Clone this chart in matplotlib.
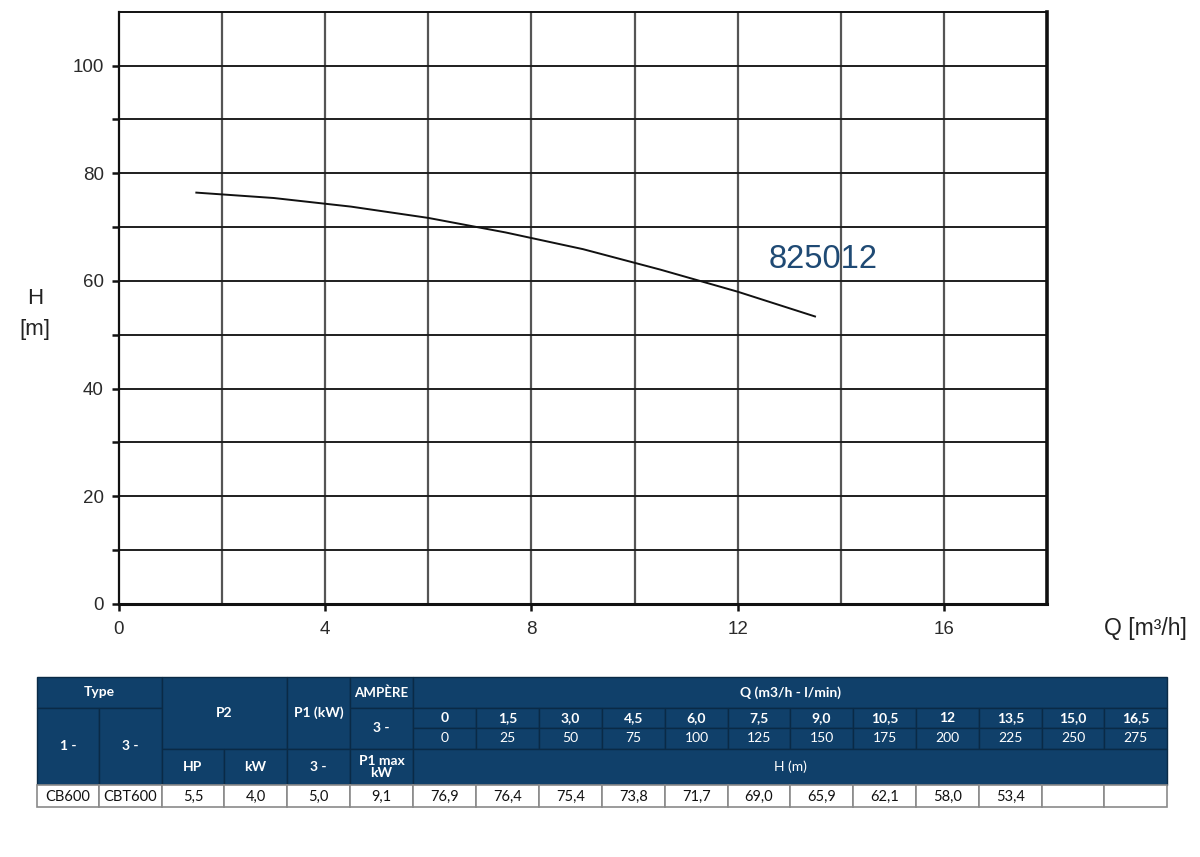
import matplotlib
matplotlib.use("Agg")
import matplotlib.pyplot as plt
from matplotlib.patches import Rectangle
import numpy as np

# ---------------- data ----------------
q_m3h = [0, 1.5, 3.0, 4.5, 6.0, 7.5, 9.0, 10.5, 12, 13.5, 15.0, 16.5]
q_m3h_labels = ["0", "1,5", "3,0", "4,5", "6,0", "7,5", "9,0", "10,5", "12", "13,5", "15,0", "16,5"]
q_lmin_labels = ["0", "25", "50", "75", "100", "125", "150", "175", "200", "225", "250", "275"]
h_m = [76.9, 76.4, 75.4, 73.8, 71.7, 69.0, 65.9, 62.1, 58.0, 53.4, None, None]
curve_start_q = 1.5
curve_label = "825012"
type_1ph = "CB600"
type_3ph = "CBT600"
p2_hp = "5,5"
p2_kw = "4,0"
p1_kw = "5,0"
p1max_kw = "9,1"

x_ticks = [0, 4, 8, 12, 16]
y_ticks = [0, 20, 40, 60, 80, 100]

# ---------------- figure ----------------
W, H = 1200, 857
fig = plt.figure(figsize=(W / 100, H / 100), dpi=100)
plt.rcParams['font.family'] = ['Liberation Sans', 'DejaVu Sans']

ax = fig.add_axes([119 / W, 1 - 604 / H, (1047 - 119) / W, (604 - 11.7) / H])
ax.set_xlim(0, 18)
ax.set_ylim(0, 110)

# grid
for gx in np.arange(2, 18, 2):
    ax.axvline(gx, color="#555555", lw=1.6, zorder=1)
for gy in np.arange(10, 110, 10):
    ax.axhline(gy, color="#1e1e1e", lw=1.4, zorder=1)

# curve
qc = [q for q, h in zip(q_m3h, h_m) if h is not None and q >= curve_start_q]
hc = [h for q, h in zip(q_m3h, h_m) if h is not None and q >= curve_start_q]
ax.plot(qc, hc, color="#111111", lw=1.4, zorder=3, solid_joinstyle="round")

ax.text(12.6, 64, curve_label, color="#1f4a74", fontsize=23.5, va="center", ha="left")

for s in ax.spines.values():
    s.set_color("#111111")
ax.spines["left"].set_linewidth(1.6)
ax.spines["top"].set_linewidth(1.4)
ax.spines["bottom"].set_linewidth(2.2)
ax.spines["right"].set_linewidth(2.6)

ax.set_xticks(x_ticks)
ax.set_xticklabels([str(t) for t in x_ticks])
ax.set_yticks(y_ticks)
ax.set_yticklabels([str(t) for t in y_ticks])
ax.set_yticks(np.arange(10, 110, 20), minor=True)
ax.tick_params(axis="both", which="both", direction="out", length=5, width=1.8,
               color="#111111", labelsize=13.5, labelcolor="#2a2a2a")
ax.tick_params(axis="y", pad=6)
ax.tick_params(axis="x", pad=7)

fig.text(35 / W, 1 - 299 / H, "H", fontsize=16, ha="center", va="center", color="#222222")
fig.text(35 / W, 1 - 330 / H, "[m]", fontsize=16, ha="center", va="center", color="#222222")
fig.text(1145 / W, 1 - 628 / H, "Q [m³/h]", fontsize=16.5, ha="center", va="center", color="#222222")

# ---------------- table ----------------
tax = fig.add_axes([0, 0, 1, 1])
tax.set_xlim(0, W)
tax.set_ylim(H, 0)
tax.axis("off")

navy = "#10406a"
line_dark = "#0a2a46"
hfont = dict(color="white", fontsize=10, fontweight="bold", ha="center", va="center",
             family=["Lato", "DejaVu Sans"])
dfont = dict(color="#111111", fontsize=10.5, ha="center", va="center",
             family=["Lato", "DejaVu Sans"])

r0, r1, r2, r3, r4, r5 = 677, 708, 727.5, 749, 785, 807
c = [37, 99, 162, 224, 287, 350, 413]
qcols = [413, 476, 539, 602, 665, 728, 790, 853, 916, 979, 1042, 1104, 1167]


def hcell(x0, x1, y0, y1, txt, ec=line_dark, weight="bold", fs=None):
    tax.add_patch(Rectangle((x0, y0), x1 - x0, y1 - y0, facecolor=navy, edgecolor=ec, lw=1))
    if txt:
        kw = dict(hfont)
        kw["fontweight"] = weight
        if fs:
            kw["fontsize"] = fs
        tax.text((x0 + x1) / 2, (y0 + y1) / 2, txt, linespacing=1.0, **kw)


def dcell(x0, x1, y0, y1, txt):
    tax.add_patch(Rectangle((x0, y0), x1 - x0, y1 - y0, facecolor="white", edgecolor="#8a8a8a", lw=1.2))
    if txt:
        tax.text((x0 + x1) / 2, (y0 + y1) / 2 + 1, txt, **dfont)


hcell(c[0], c[2], r0, r1, "Type")
hcell(c[0], c[1], r1, r4, "1 -")
hcell(c[1], c[2], r1, r4, "3 -")
hcell(c[2], c[4], r0, r3, "P2")
hcell(c[2], c[3], r3, r4, "HP")
hcell(c[3], c[4], r3, r4, "kW")
hcell(c[4], c[5], r0, r3, "P1 (kW)")
hcell(c[4], c[5], r3, r4, "3 -")
hcell(c[5], c[6], r0, r1, "AMPÈRE", fs=9.6)
hcell(c[5], c[6], r1, r3, "3 -")
hcell(c[5], c[6], r3, r4, "P1 max\nkW")
hcell(qcols[0], qcols[-1], r0, r1, "Q (m3/h - l/min)")
for i in range(len(q_m3h_labels)):
    hcell(qcols[i], qcols[i + 1], r1, r2, q_m3h_labels[i])
    hcell(qcols[i], qcols[i + 1], r2, r3, q_lmin_labels[i], weight="normal")
hcell(qcols[0], qcols[-1], r3, r4, "H (m)", weight="normal")

# data row
row_vals = [type_1ph, type_3ph, p2_hp, p2_kw, p1_kw, p1max_kw]
for i, v in enumerate(row_vals):
    dcell(c[i], c[i + 1], r4, r5, v)
for i, h in enumerate(h_m):
    txt = "" if h is None else f"{h:.1f}".replace(".", ",")
    dcell(qcols[i], qcols[i + 1], r4, r5, txt)

fig.savefig("out.png", dpi=100)
